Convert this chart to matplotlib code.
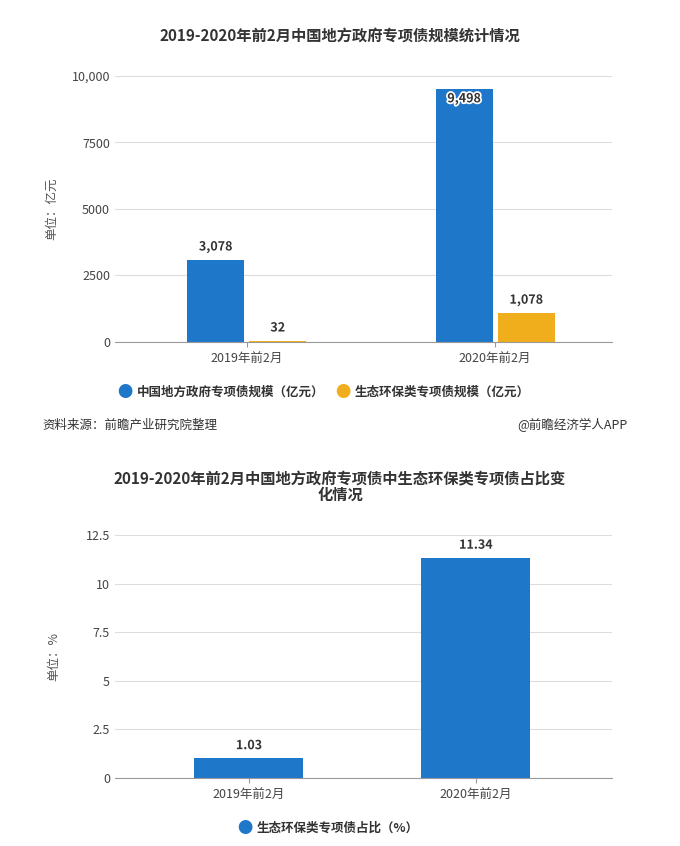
import matplotlib
matplotlib.use("Agg")
import matplotlib.pyplot as plt
import matplotlib.patheffects as pe

plt.rcParams['font.family'] = ['Noto Sans CJK SC', 'DejaVu Sans']

cats = ['2019年前2月', '2020年前2月']
total = [3078, 9498]
eco = [32, 1078]
ratio = [1.03, 11.34]
blue = '#1f77c9'
yellow = '#f0ad1c'
W, H = 680, 846
fig = plt.figure(figsize=(W/100, H/100), dpi=100)

def ax_at(l, t, r, b):
    return fig.add_axes([l/W, 1-b/H, (r-l)/W, (b-t)/H])

def style(ax):
    for s in ['top', 'right', 'left']:
        ax.spines[s].set_visible(False)
    ax.spines['bottom'].set_color('#999999')
    ax.yaxis.grid(True, color='#dddddd', lw=0.8)
    ax.set_axisbelow(True)
    ax.tick_params(axis='y', length=0, labelsize=9, colors='#444444')
    ax.tick_params(axis='x', labelsize=9, colors='#444444', color='#999999')

fx = [pe.withStroke(linewidth=2.5, foreground='white')]

ax1 = ax_at(115, 76, 612, 342)
style(ax1)
x = [0, 1]
off, w = 0.125, 0.23
ax1.bar([i-off for i in x], total, w, color=blue)
ax1.bar([i+off for i in x], eco, w, color=yellow)
for i in x:
    for v, dx in ((total[i], -off), (eco[i], off)):
        ax1.text(i+dx, v+250 if v < 9000 else v-600, f'{v:,}', ha='center', va='bottom',
                 fontsize=9, fontweight='bold', color='#333333', path_effects=fx)
ax1.set_xlim(-0.53, 1.47)
ax1.set_ylim(0, 10000)
ax1.set_yticks([0, 2500, 5000, 7500, 10000])
ax1.set_yticklabels(['0', '2500', '5000', '7500', '10,000'])
ax1.set_xticks(x)
ax1.set_xticklabels(cats)
ax1.set_ylabel('单位：亿元', fontsize=9, color='#555555', labelpad=10)
fig.text(0.5, 1-36/H, '2019-2020年前2月中国地方政府专项债规模统计情况', ha='center', va='center',
         fontsize=11, fontweight='bold', color='#333333')
fig.text(125/W, 1-392/H, '●', color=blue, fontsize=11, ha='center', va='center')
fig.text(137/W, 1-392/H, '中国地方政府专项债规模（亿元）', fontsize=9, fontweight='bold', va='center', color='#333333')
fig.text(343/W, 1-392/H, '●', color=yellow, fontsize=11, ha='center', va='center')
fig.text(355/W, 1-392/H, '生态环保类专项债规模（亿元）', fontsize=9, fontweight='bold', va='center', color='#333333')
fig.text(42/W, 1-425/H, '资料来源：前瞻产业研究院整理', fontsize=9, va='center', color='#333333')
fig.text(628/W, 1-425/H, '@前瞻经济学人APP', fontsize=9, va='center', ha='right', color='#333333')

ax2 = ax_at(115, 535, 612, 778)
style(ax2)
ax2.bar(x, ratio, 0.48, color=blue)
for i in x:
    ax2.text(i, ratio[i]+0.3, f'{ratio[i]:.2f}', ha='center', va='bottom', fontsize=9,
             fontweight='bold', color='#333333', path_effects=fx)
ax2.set_xlim(-0.59, 1.6)
ax2.set_ylim(0, 12.5)
ax2.set_yticks([0, 2.5, 5, 7.5, 10, 12.5])
ax2.set_yticklabels(['0', '2.5', '5', '7.5', '10', '12.5'])
ax2.set_xticks(x)
ax2.set_xticklabels(cats)
ax2.set_ylabel('单位：%', fontsize=9, color='#555555', labelpad=18)
fig.text(0.5, 1-487/H, '2019-2020年前2月中国地方政府专项债中生态环保类专项债占比变\n化情况', ha='center',
         va='center', fontsize=11, fontweight='bold', color='#333333', linespacing=1.0)
fig.text(245/W, 1-828/H, '●', color=blue, fontsize=11, ha='center', va='center')
fig.text(257/W, 1-828/H, '生态环保类专项债占比（%）', fontsize=9, fontweight='bold', va='center', color='#333333')

fig.savefig('out.png', dpi=100)
